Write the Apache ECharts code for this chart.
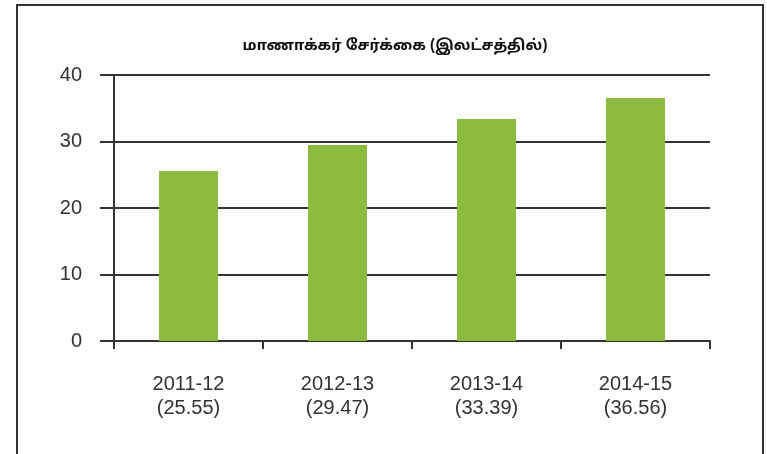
<!DOCTYPE html>
<html>
<head>
<meta charset="utf-8">
<script src="https://cdn.jsdelivr.net/npm/echarts@6/dist/echarts.min.js"></script>
<style>
  html, body { margin: 0; padding: 0; background: #fdfdfb; }
  #chart { width: 767px; height: 454px; }
</style>
</head>
<body>
<div id="chart"></div>
<script>
// Student enrolment (in lakhs) by academic year
const years = ['2011-12', '2012-13', '2013-14', '2014-15'];
const enrolment = [25.55, 29.47, 33.39, 36.56];
const yTicks = [0, 10, 20, 30, 40];

const chart = echarts.init(document.getElementById('chart'));
const labelFont = "'Liberation Sans', Arial, sans-serif";

chart.setOption({
  backgroundColor: '#fdfdfb',
  animation: false,
  title: {
    text: 'மாணாக்கர் சேர்க்கை (இலட்சத்தில்)',
    left: 390,
    top: 34,
    textAlign: 'center',
    textStyle: { fontSize: 15, fontWeight: 'bold', color: '#111', fontFamily: "'Noto Sans Tamil', 'Noto Sans', sans-serif" }
  },
  graphic: [{
    type: 'rect',
    shape: { x: 17, y: 5, width: 746, height: 470 },
    style: { fill: 'none', stroke: '#333', lineWidth: 2 },
    silent: true
  }],
  grid: { left: 114, right: 57, top: 75, bottom: 113 },
  xAxis: {
    type: 'category',
    data: years.map((y, i) => y + '\n(' + enrolment[i].toFixed(2) + ')'),
    axisLine: { lineStyle: { color: '#333', width: 2 } },
    axisTick: { show: true, length: 8, alignWithLabel: false, lineStyle: { color: '#333', width: 2 } },
    axisLabel: { margin: 31, fontSize: 20, lineHeight: 24, color: '#333', fontFamily: labelFont }
  },
  yAxis: {
    type: 'value',
    min: yTicks[0],
    max: yTicks[yTicks.length - 1],
    interval: 10,
    axisLine: { show: true, lineStyle: { color: '#333', width: 2 } },
    axisTick: { show: true, length: 14, lineStyle: { color: '#333', width: 2 } },
    axisLabel: { margin: 32, fontSize: 20, color: '#333', fontFamily: labelFont },
    splitLine: { show: true, lineStyle: { color: '#333', width: 2 } }
  },
  series: [{
    type: 'bar',
    data: enrolment,
    barWidth: 59,
    itemStyle: { color: '#8dbb3f' }
  }]
});
</script>
</body>
</html>
